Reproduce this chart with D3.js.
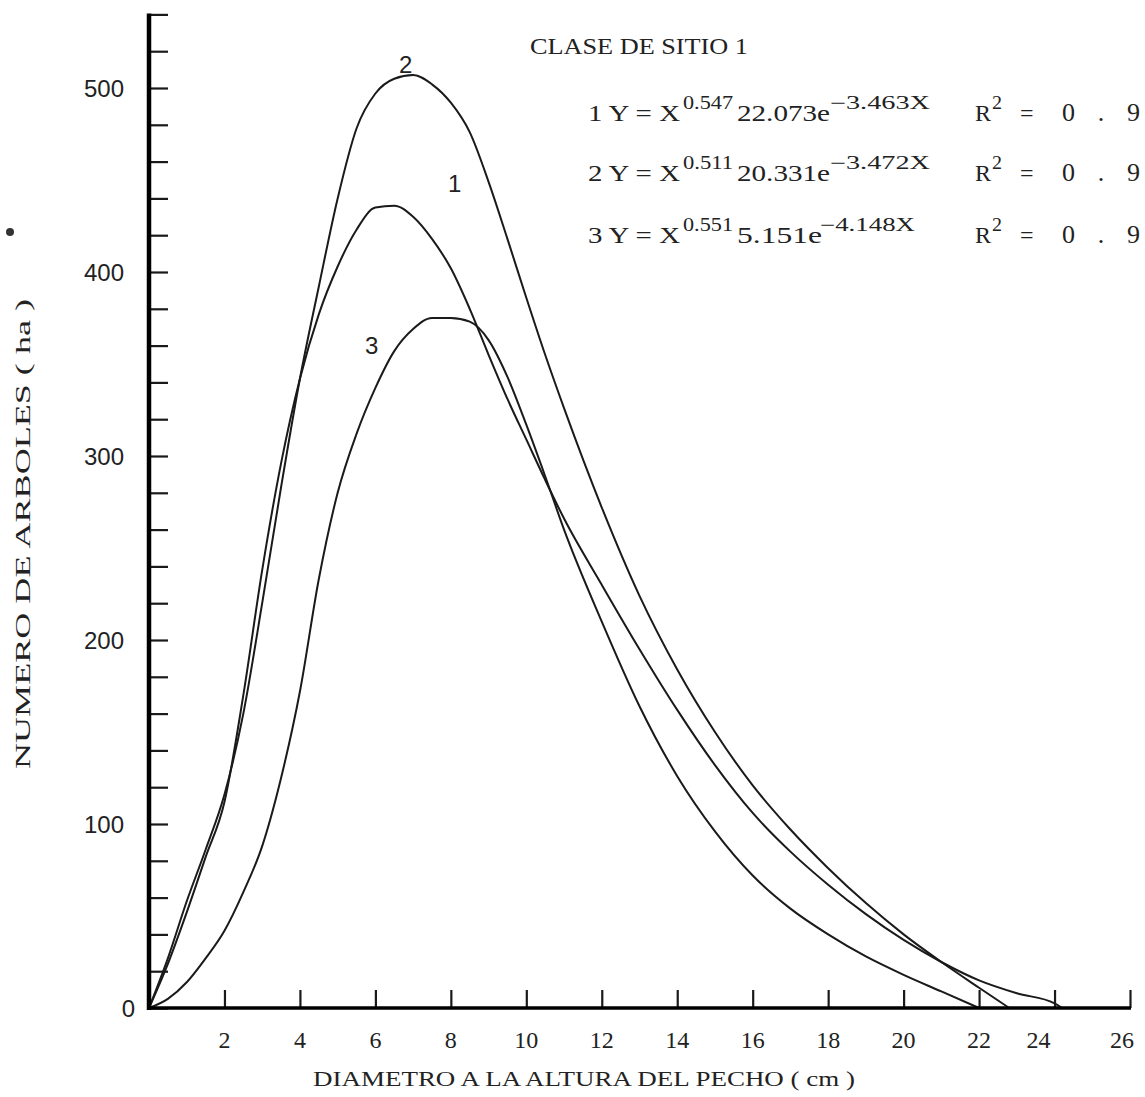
<!DOCTYPE html>
<html><head><meta charset="utf-8">
<script src="https://cdn.jsdelivr.net/npm/d3@7"></script>
<style>
html,body{margin:0;padding:0;background:#fff;overflow:hidden;}
svg{display:block;}
</style></head>
<body>
<svg id="chart" width="1145" height="1097"></svg>
<script>
// ---- data ----
const xs1 = [0,0.5,1,1.5,2,2.5,3,3.5,4,4.5,5,5.5,6,6.5,7,7.5,8,8.5,9,9.5,10,10.5,11,12,13,14,15,16,17,18,19,20,21,22,23,24,24.2];
const ys1 = [0,24,52,82,112,170,238,296,342,377,403,423,435,436,430,418,402,380,355,331,309,287,266,230,195,162,132,106,85,67,51,37,25,15,8,2.5,0];
const xs2 = [0,0.5,1,1.5,2,2.5,3,3.5,4,4.5,5,5.5,6,6.5,7,7.5,8,8.5,9,9.5,10,10.5,11,12,13,14,15,16,17,18,19,20,21,22,22.8];
const ys2 = [0,27,58,86,116,160,220,283,342,392,440,478,497,505,507,502,492,476,449,418,386,355,326,272,224,184,150,121,97,76,57,40,25,11,0];
const xs3 = [0,0.5,1,1.5,2,2.5,3,3.5,4,4.5,5,5.5,6,6.5,7,7.5,8,8.5,9,9.5,10,10.5,11,12,13,14,15,16,17,18,19,20,21,22];
const ys3 = [0,5,14,27,42,63,88,125,172,233,280,312,337,357,369,375,375,373,363,343,317,289,260,210,164,126,96,72,54,40,28,18,9,0];
const seriesNames = ["1","2","3"];
const xTicks = [2,4,6,8,10,12,14,16,18,20,22,24,26];
const yLabelTicks = [0,100,200,300,400,500];
const yMinorStep = 20;
const titleText = "CLASE DE SITIO 1";
const xTitle = "DIAMETRO A LA ALTURA DEL PECHO ( cm )";
const yTitle = "NUMERO DE ARBOLES ( ha )";
const eqNum = ["1","2","3"];
const eqExp1 = ["0.547","0.511","0.551"];
const eqCoef = ["22.073","20.331","5.151"];
const eqExp2 = ["\u22123.463X","\u22123.472X","\u22124.148X"];
const eqR2 = ["0.9","0.9","0.9"];

// ---- drawing ----
const svg = d3.select("#chart");
const x = d3.scaleLinear().domain([0,26]).range([149,1130]);
const y = d3.scaleLinear().domain([0,500]).range([1008,88]);
const serif = "'Liberation Serif','DejaVu Serif',serif";
const sans = "'Liberation Sans','DejaVu Sans',sans-serif";
const ink = "#1a1a1a";

// curves
const line = d3.line().x(d=>x(d[0])).y(d=>y(d[1])).curve(d3.curveMonotoneX);
[[xs1,ys1],[xs2,ys2],[xs3,ys3]].forEach(([xs,ys])=>{
  svg.append("path").datum(xs.map((v,i)=>[v,ys[i]]))
    .attr("d",line).attr("fill","none").attr("stroke",ink).attr("stroke-width",2);
});

// y axis
const yTickVals = d3.range(0, 541, yMinorStep);
const yAxis = d3.axisRight(y).tickValues(yTickVals).tickSize(19).tickFormat("");
const gy = svg.append("g").attr("transform",`translate(${x(0)},0)`).call(yAxis);
gy.select(".domain").remove();
gy.selectAll(".tick line").attr("stroke",ink).attr("stroke-width",2.2);
svg.append("line").attr("x1",x(0)).attr("x2",x(0)).attr("y1",y(540)-1).attr("y2",y(0)+2)
  .attr("stroke","#000").attr("stroke-width",4.5);
svg.selectAll(".ylab").data(yLabelTicks).enter().append("text")
  .attr("x",d=>d===0?135:124).attr("y",d=>y(d)).attr("dy","0.36em").attr("text-anchor","end")
  .attr("font-family",sans).attr("font-size",24).attr("fill","#222").text(d=>d);

// x axis
const xAxis = d3.axisTop(x).tickValues(xTicks).tickSize(18).tickFormat("");
const gx = svg.append("g").attr("transform",`translate(0,${y(0)})`).call(xAxis);
gx.select(".domain").remove();
gx.selectAll(".tick line").attr("stroke",ink).attr("stroke-width",2.2);
svg.append("line").attr("x1",x(0)-2).attr("x2",x(26)+1).attr("y1",y(0)).attr("y2",y(0))
  .attr("stroke","#000").attr("stroke-width",3.5);
svg.selectAll(".xlab").data(xTicks).enter().append("text")
  .attr("x",d=>x(d) + (d===24 ? -16 : (d===26 ? -8 : 0))).attr("y",y(0)+31).attr("dy","0.36em")
  .attr("text-anchor","middle").attr("font-family",serif).attr("font-size",24).attr("fill","#222").text(d=>d);

// axis titles
svg.append("text").attr("x",584).attr("y",1078).attr("dy","0.36em").attr("text-anchor","middle")
  .attr("font-family",serif).attr("font-size",21).attr("fill","#222")
  .attr("textLength",542).attr("lengthAdjust","spacingAndGlyphs").text(xTitle);
svg.append("text").attr("transform",`translate(22,534) rotate(-90)`).attr("dy","0.36em").attr("text-anchor","middle")
  .attr("font-family",serif).attr("font-size",22).attr("fill","#222")
  .attr("textLength",470).attr("lengthAdjust","spacingAndGlyphs").text(yTitle);
// stray ink blot on the scan
svg.append("circle").attr("cx",10).attr("cy",232).attr("r",4).attr("fill","#333");

// curve labels
const labPos = [[8.1,448],[6.8,513],[5.9,360]];
seriesNames.forEach((s,i)=>{
  svg.append("text").attr("x",x(labPos[i][0])).attr("y",y(labPos[i][1])).attr("dy","0.36em")
    .attr("text-anchor","middle").attr("font-family",sans).attr("font-size",24).attr("fill","#222").text(s);
});

// title and equations
svg.append("text").attr("x",530).attr("y",46).attr("dy","0.36em")
  .attr("font-family",serif).attr("font-size",23).attr("fill","#222")
  .attr("textLength",218).attr("lengthAdjust","spacingAndGlyphs").text(titleText);

const eqY = [112,172,234];
const coefW = [93,93,85];
const exp2X = [830,830,820];
const exp2W = [100,100,95];
function piece(txt, px, py, size, w, adj){
  const t = svg.append("text").attr("x",px).attr("y",py).attr("dy","0.36em")
    .attr("font-family",serif).attr("font-size",size).attr("fill","#222").text(txt);
  if (w) t.attr("textLength",w).attr("lengthAdjust",adj||"spacingAndGlyphs");
  return t;
}
eqNum.forEach((n,i)=>{
  const yy = eqY[i];
  piece(n+" Y = X", 588, yy, 24, 92);
  piece(eqExp1[i], 683, yy-9, 18, 50);
  piece(eqCoef[i]+"e", 737, yy, 24, coefW[i]);
  piece(eqExp2[i], exp2X[i], yy-9, 18, exp2W[i]);
  piece("R", 975, yy, 24, 16);
  piece("2", 992, yy-9, 18, 10);
  piece("=", 1020, yy, 24, 0);
  piece(eqR2[i], 1062, yy, 26, 78, "spacing");
});
</script>
</body></html>
